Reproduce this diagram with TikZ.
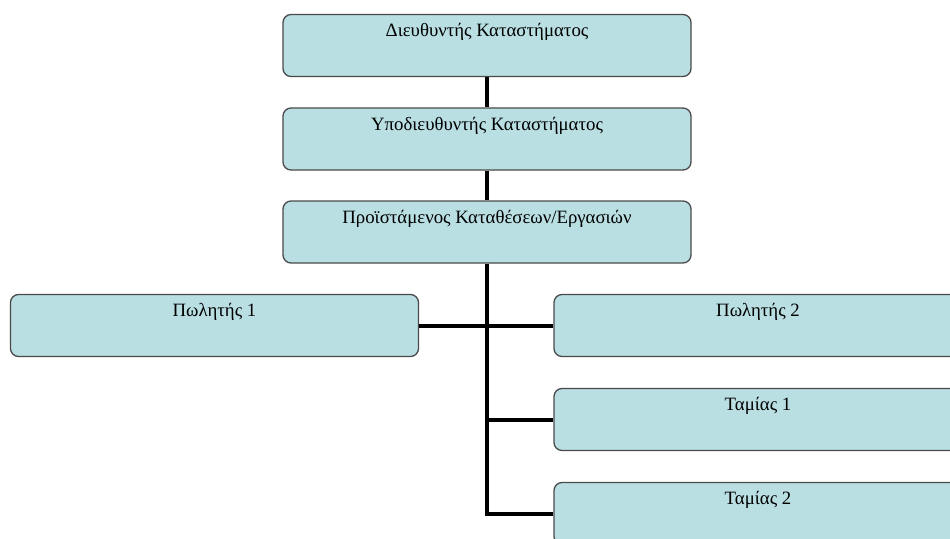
\documentclass[tikz,border=0pt]{standalone}
\usepackage{fontspec}
\setmainfont{Liberation Serif}
\definecolor{boxfill}{HTML}{B9DFE3}
\definecolor{boxline}{HTML}{4A4A4A}
\begin{document}
\begin{tikzpicture}[x=1pt,y=-1pt,
  orgbox/.style={draw=boxline, line width=1.3pt, fill=boxfill, rounded corners=8pt,
    minimum width=408pt, minimum height=62pt, inner xsep=0pt, inner ysep=10pt,
    text height=12pt, text depth=30pt, font=\fontsize{18.8}{22}\selectfont, align=center},
  link/.style={line width=4pt, black}]
\useasboundingbox (0,0) rectangle (950,538);
\clip (0,0) rectangle (950,538);
\node[orgbox] (d1) at (487,45.5) {Διευθυντής Καταστήματος};
\node[orgbox] (d2) at (487,139) {Υποδιευθυντής Καταστήματος};
\node[orgbox] (d3) at (487,232) {Προϊστάμενος Καταθέσεων/Εργασιών};
\node[orgbox] (p1) at (214.5,325.5) {Πωλητής 1};
\node[orgbox] (p2) at (758,325.5) {Πωλητής 2};
\node[orgbox] (t1) at (758,419.5) {Ταμίας 1};
\node[orgbox] (t2) at (758,513.5) {Ταμίας 2};
\draw[link] (d1.south) -- (d2.north);
\draw[link] (d2.south) -- (d3.north);
\draw[link] (d3.south) |- (t2.west);
\draw[link] (p1.east) -- (p2.west);
\draw[link] (d3.south |- t1.west) -- (t1.west);
\end{tikzpicture}
\end{document}
